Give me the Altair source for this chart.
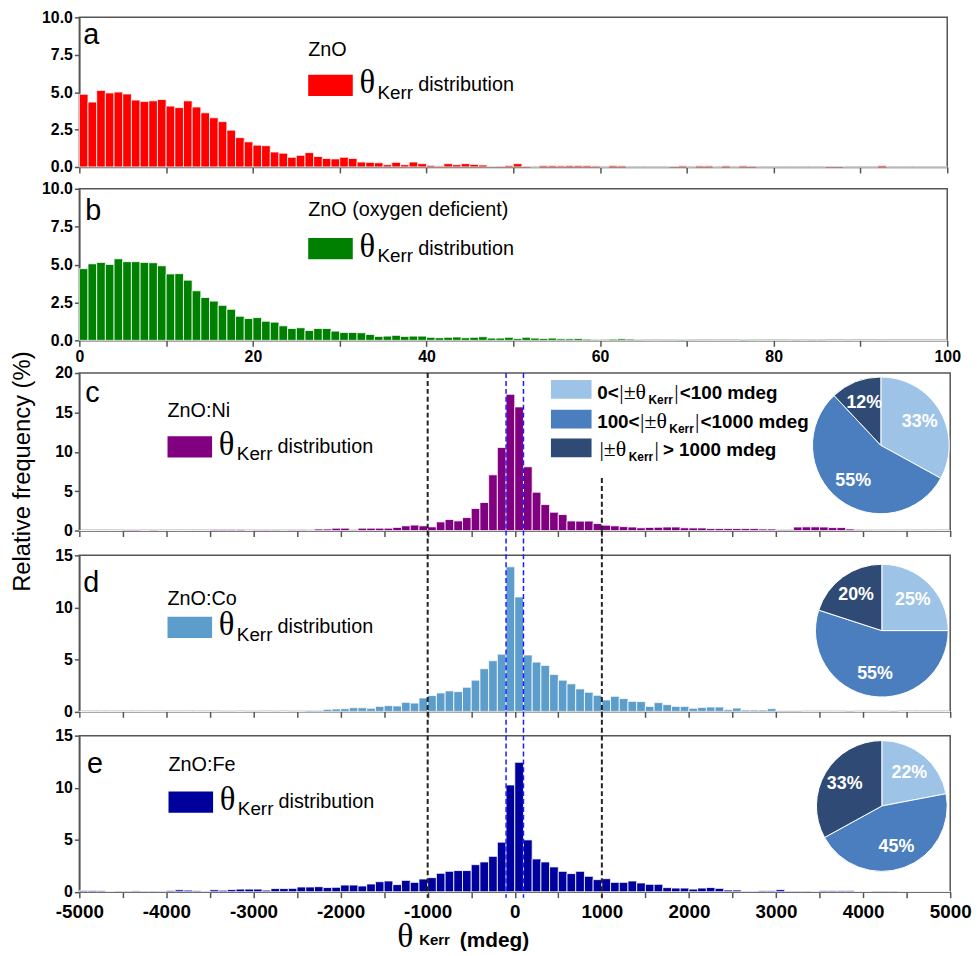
import altair as alt
import pandas as pd

SANS = "Liberation Sans"
SERIF = "Liberation Serif"

# ---------------- data (relative frequency, %) ----------------
# panels a, b: bins of width 1 from 0 to 100
ZNO = [4.86, 4.34, 5.12, 4.95, 5.01, 4.88, 4.47, 4.38, 4.42, 4.51,
       4.07, 3.97, 4.42, 4.01, 3.62, 3.29, 3.03, 2.46, 1.96, 1.68,
       1.46, 1.42, 1.00, 0.92, 0.65, 0.78, 0.96, 0.70, 0.57, 0.54,
       0.65, 0.57, 0.33, 0.31, 0.28, 0.15, 0.31, 0.15, 0.33, 0.22,
       0.11, 0.07, 0.22, 0.15, 0.22, 0.17, 0.13, 0.04, 0.05, 0.10,
       0.22, 0.05, 0.0, 0.10, 0.10, 0.08, 0.10, 0.10, 0.10, 0.07,
       0.0, 0.10, 0.08, 0.0, 0.0, 0.0, 0.0, 0.0, 0.05, 0.08,
       0.0, 0.08, 0.08, 0.0, 0.08, 0.0, 0.08, 0.06, 0.0, 0.0,
       0.0, 0.0, 0.0, 0.0, 0.0, 0.0, 0.05, 0.05, 0.0, 0.0,
       0.0, 0.0, 0.10, 0.0, 0.0, 0.0, 0.0, 0.0, 0.0, 0.0]
ZNO_OD = [4.73, 5.05, 5.14, 5.01, 5.38, 5.19, 5.19, 5.14, 5.12, 4.92,
          4.38, 4.40, 3.97, 3.27, 2.83, 2.59, 2.31, 2.05, 1.59, 1.44,
          1.50, 1.26, 1.20, 0.96, 0.78, 0.83, 0.65, 0.78, 0.78, 0.61,
          0.52, 0.52, 0.50, 0.39, 0.26, 0.28, 0.33, 0.26, 0.28, 0.28,
          0.20, 0.17, 0.20, 0.22, 0.17, 0.20, 0.24, 0.15, 0.15, 0.20,
          0.12, 0.20, 0.15, 0.12, 0.15, 0.10, 0.10, 0.12, 0.08, 0.05,
          0.03, 0.08, 0.10, 0.08, 0.05, 0.03, 0.02, 0.03, 0.03, 0.05,
          0.03, 0.02, 0.02, 0.02, 0.02, 0.02, 0.05, 0.03, 0.02, 0.02,
          0.02, 0.02, 0.04, 0.02, 0.04, 0.03, 0.01, 0.01, 0.02, 0.01,
          0.01, 0.01, 0.02, 0.01, 0.01, 0.01, 0.01, 0.01, 0.01, 0.01]
# panels c, d, e: bins of 100 mdeg from -5000 to 5000
NI = [0.0, 0.0, 0.0, 0.0, 0.02, 0.13, 0.13, 0.02, 0.10, 0.02,
      0.02, 0.0, 0.02, 0.02, 0.02, 0.15, 0.15, 0.15, 0.15, 0.03,
      0.10, 0.10, 0.10, 0.03, 0.10, 0.10, 0.05, 0.20, 0.20, 0.30,
      0.30, 0.10, 0.30, 0.30, 0.30, 0.30, 0.40, 0.60, 0.70, 0.60,
      0.47, 1.10, 1.40, 1.23, 1.65, 2.80, 3.56, 7.08, 10.55, 17.30,
      15.70, 8.10, 4.87, 3.30, 2.33, 2.03, 1.22, 1.20, 1.20, 0.89,
      0.68, 0.60, 0.50, 0.45, 0.35, 0.40, 0.42, 0.45, 0.45, 0.35,
      0.33, 0.33, 0.25, 0.25, 0.25, 0.25, 0.25, 0.25, 0.20, 0.20,
      0.13, 0.13, 0.45, 0.47, 0.47, 0.45, 0.38, 0.38, 0.20, 0.10,
      0.08, 0.05, 0.05, 0.05, 0.03, 0.03, 0.05, 0.03, 0.02, 0.02]
CO = [0.0, 0.0, 0.0, 0.0, 0.0, 0.0, 0.0, 0.0, 0.0, 0.0,
      0.0, 0.0, 0.0, 0.0, 0.0, 0.0, 0.03, 0.03, 0.0, 0.03,
      0.03, 0.0, 0.03, 0.0, 0.03, 0.02, 0.10, 0.10, 0.20, 0.23,
      0.26, 0.35, 0.35, 0.30, 0.48, 0.55, 0.52, 0.87, 0.80, 1.29,
      1.52, 1.77, 1.97, 1.90, 2.32, 3.00, 4.10, 4.87, 5.50, 13.90,
      11.00, 5.42, 4.74, 4.42, 3.55, 3.00, 2.65, 2.16, 1.84, 1.55,
      1.10, 1.45, 1.23, 0.97, 0.94, 0.48, 0.84, 0.65, 0.48, 0.48,
      0.30, 0.38, 0.42, 0.42, 0.16, 0.32, 0.13, 0.13, 0.13, 0.26,
      0.08, 0.08, 0.08, 0.02, 0.02, 0.02, 0.02, 0.02, 0.08, 0.02,
      0.02, 0.02, 0.02, 0.08, 0.0, 0.0, 0.0, 0.0, 0.0, 0.0]
FE = [0.12, 0.12, 0.10, 0.03, 0.06, 0.06, 0.08, 0.06, 0.06, 0.05,
      0.12, 0.18, 0.15, 0.10, 0.05, 0.18, 0.14, 0.20, 0.25, 0.25,
      0.25, 0.15, 0.30, 0.30, 0.32, 0.45, 0.45, 0.48, 0.40, 0.42,
      0.64, 0.64, 0.55, 0.74, 0.96, 1.03, 0.68, 1.09, 0.90, 1.22,
      1.35, 1.77, 1.96, 2.03, 2.03, 2.60, 2.86, 3.40, 4.76, 10.26,
      12.44, 4.98, 3.15, 2.86, 2.38, 1.96, 1.74, 1.96, 1.48, 1.16,
      1.25, 0.90, 0.90, 1.03, 0.84, 0.71, 0.71, 0.39, 0.35, 0.35,
      0.25, 0.35, 0.40, 0.32, 0.16, 0.16, 0.05, 0.05, 0.10, 0.10,
      0.19, 0.06, 0.06, 0.06, 0.03, 0.10, 0.10, 0.10, 0.10, 0.02,
      0.02, 0.06, 0.06, 0.06, 0.02, 0.02, 0.02, 0.02, 0.02, 0.02]

PIE_CATS = ["0-100", "100-1000", ">1000"]
PIE_COLORS = ["#9DC3E6", "#4A7EBF", "#2F4B75"]
PIE_NI = [33, 55, 12]
PIE_CO = [25, 55, 20]
PIE_FE = [22, 45, 33]

TOP_TICKS = list(range(0, 101, 10))
BOT_TICKS = list(range(-5000, 5001, 500))
Y_TOP_TICKS = [0, 2.5, 5, 7.5, 10]
Y_C_TICKS = [0, 5, 10, 15, 20]
Y_DE_TICKS = [0, 5, 10, 15]

W_TOP, W_BOT = 876, 879
HA, HB, HC, HD, HE = 151, 153, 159, 157.5, 157.5


# ---------------- helpers ----------------
def hist_df(values, start, step):
    n = len(values)
    return pd.DataFrame({"x0": [start + step * i for i in range(n)],
                         "x1": [start + step * (i + 1) for i in range(n)],
                         "v": values})


def bar_layer(df, color, xenc, yenc):
    return alt.Chart(df).mark_bar(color=color, stroke="white", strokeWidth=0.8).encode(
        x=xenc, x2="x1:Q", y=yenc, y2=alt.datum(0))


def txt(s, x, y, size, weight="normal", font=SANS, color="black"):
    return alt.Chart(pd.DataFrame({"t": [s]})).mark_text(
        align="left", baseline="alphabetic", font=font, fontSize=size,
        fontWeight=weight, color=color).encode(x=alt.value(x), y=alt.value(y), text="t:N")


def box(x, y, w, h, color):
    return alt.Chart(pd.DataFrame({"k": [0]})).mark_rect(color=color).encode(
        x=alt.value(x), x2=alt.value(x + w), y=alt.value(y), y2=alt.value(y + h))


def vrule(xv, y0, y1, color, width, xenc):
    return alt.Chart(pd.DataFrame({"x0": [xv]})).mark_rule(
        color=color, strokeWidth=width, strokeDash=[5, 3]).encode(
        x=xenc, y=alt.value(y0), y2=alt.value(y1))


def series_key(name, color, left, name_base, top):
    return [
        txt(name, left, name_base, 20),
        box(left, top, 45, 21.5, color),
        txt("\u03b8", left + 51.7, top + 18.7, 33, font=SERIF),
        txt("Kerr", left + 70, top + 24, 19),
        txt("distribution", left + 111, top + 16.7, 20),
    ]


def pie(pcts, cx, cy, r):
    df = pd.DataFrame({"cat": PIE_CATS, "pct": pcts, "ord": [0, 1, 2],
                       "lab": [f"{p}%" for p in pcts]})
    base = alt.Chart(df).encode(theta=alt.Theta("pct:Q", stack=True),
                                order=alt.Order("ord:Q"),
                                x=alt.value(cx), y=alt.value(cy))
    arc = base.mark_arc(radius=r, stroke="white", strokeWidth=1).encode(
        color=alt.Color("cat:N", scale=alt.Scale(domain=PIE_CATS, range=PIE_COLORS), legend=None))
    lab = base.mark_text(radius=r * 0.66, font=SANS, fontWeight="bold", fontSize=18,
                         color="white").encode(text="lab:N")
    return [arc, lab]


def spacer(h):
    return alt.Chart(pd.DataFrame({"k": [0]})).mark_point(opacity=0).encode(
        x=alt.value(0), y=alt.value(0)).properties(
        width=10, height=h, view=alt.ViewBackground(stroke="transparent"))


top_scale = alt.Scale(domain=[0, 100], nice=False, zero=False)
bot_scale = alt.Scale(domain=[-5000, 5000], nice=False, zero=False)

x_a = alt.X("x0:Q", scale=top_scale,
            axis=alt.Axis(values=TOP_TICKS, labels=False, title=None, tickSize=6))
x_b = alt.X("x0:Q", scale=top_scale,
            axis=alt.Axis(values=TOP_TICKS, title=None, tickSize=6, labelFontSize=16,
                          labelPadding=2, labelFlush=False, labelOverlap=False,
                          labelExpr="datum.value % 20 == 0 ? datum.label : ''"))
x_cd = alt.X("x0:Q", scale=bot_scale,
             axis=alt.Axis(values=BOT_TICKS, labels=False, title=None, tickSize=6))
x_e = alt.X("x0:Q", scale=bot_scale,
            axis=alt.Axis(values=BOT_TICKS, title=None, tickSize=6, labelFontSize=19,
                          labelPadding=5, labelFlush=False, labelOverlap=False,
                          labelExpr="datum.value % 1000 == 0 ? '' + datum.value : ''"))

y_top = alt.Y("v:Q", scale=alt.Scale(domain=[0, 10], nice=False),
              axis=alt.Axis(values=Y_TOP_TICKS, format=".1f", title=None))
y_c = alt.Y("v:Q", scale=alt.Scale(domain=[0, 20], nice=False),
            axis=alt.Axis(values=Y_C_TICKS, format="d", title="Relative frequency (%)",
                          titleFontSize=24, titleX=-45, titleY=99, titleAngle=270,
                          titleBaseline="bottom", titleAlign="center"))
y_de = alt.Y("v:Q", scale=alt.Scale(domain=[0, 15], nice=False),
             axis=alt.Axis(values=Y_DE_TICKS, format="d", title=None))

# ---------------- panels ----------------
pa = alt.layer(
    bar_layer(hist_df(ZNO, 0, 1), "#FF0000", x_a, y_top),
    txt("a", 4, 27, 29),
    *series_key("ZnO", "#FF0000", 231, 39, 58),
).properties(width=W_TOP, height=HA)

pb = alt.layer(
    bar_layer(hist_df(ZNO_OD, 0, 1), "#008000", x_b, y_top),
    txt("b", 6, 32, 29),
    *series_key("ZnO (oxygen deficient)", "#008000", 231, 28, 49.7),
).properties(width=W_TOP, height=HB)

BLACK, BLUE = "#222222", "#1A1AFF"

legend_rows = [
    box(476, 7, 41, 19, PIE_COLORS[0]),
    box(476, 37, 41, 19, PIE_COLORS[1]),
    box(476, 66, 41, 19, PIE_COLORS[2]),
    txt("0<", 522.7, 26.3, 19, "bold"),
    txt("|\u00b1\u03b8", 545, 26.3, 22, font=SERIF),
    txt("Kerr", 574.5, 31.3, 12, "bold"),
    txt("|", 600.5, 26.3, 22, font=SERIF),
    txt("<100 mdeg", 606, 26.3, 19, "bold"),
    txt("100<", 522.7, 55.3, 19, "bold"),
    txt("|\u00b1\u03b8", 566, 55.3, 22, font=SERIF),
    txt("Kerr", 595.5, 60.3, 12, "bold"),
    txt("|", 621.5, 55.3, 22, font=SERIF),
    txt("<1000 mdeg", 627, 55.3, 19, "bold"),
    txt("|\u00b1\u03b8", 525, 84, 22, font=SERIF),
    txt("Kerr", 554.5, 89, 12, "bold"),
    txt("|", 580.5, 84, 22, font=SERIF),
    txt("> 1000 mdeg", 589, 84, 19, "bold"),
]

pc = alt.layer(
    bar_layer(hist_df(NI, -5000, 100), "#800080", x_cd, y_c),
    vrule(-1000, 0, HC, BLACK, 2, x_cd),
    vrule(1000, 106, HC, BLACK, 2, x_cd),
    vrule(-100, 0, HC, BLUE, 1.5, x_cd),
    vrule(100, 0, HC, BLUE, 1.5, x_cd),
    txt("c", 6, 29, 29),
    *series_key("ZnO:Ni", "#800080", 89, 44.7, 63.7),
    *legend_rows,
    *pie(PIE_NI, 809, 73, 69),
).properties(width=W_BOT, height=HC)

pd_ = alt.layer(
    bar_layer(hist_df(CO, -5000, 100), "#5C9DCB", x_cd, y_de),
    vrule(-1000, -25, HD, BLACK, 2, x_cd),
    vrule(1000, -25, HD, BLACK, 2, x_cd),
    vrule(-100, -25, HD, BLUE, 1.5, x_cd),
    vrule(100, -25, HD, BLUE, 1.5, x_cd),
    txt("d", 4, 37, 29),
    *series_key("ZnO:Co", "#5C9DCB", 89, 50, 62),
    *pie(PIE_CO, 810, 76, 67),
).properties(width=W_BOT, height=HD)

pe = alt.layer(
    bar_layer(hist_df(FE, -5000, 100), "#00009C", x_e, y_de),
    vrule(-1000, -24, HE + 6, BLACK, 2, x_e),
    vrule(1000, -24, HE + 6, BLACK, 2, x_e),
    vrule(-100, -24, HE + 6, BLUE, 1.5, x_e),
    vrule(100, -24, HE + 6, BLUE, 1.5, x_e),
    txt("e", 7.7, 37.7, 29),
    *series_key("ZnO:Fe", "#00009C", 90, 35.3, 56.3),
    *pie(PIE_FE, 810, 71, 66),
    txt("\u03b8", 321, HE + 56, 34, font=SERIF),
    txt("Kerr", 343, HE + 54, 15, "bold"),
    txt("(mdeg)", 384, HE + 56, 21, "bold"),
).properties(width=W_BOT, height=HE)

chart = alt.vconcat(
    pa, spacer(21.5), pb, spacer(33), pc, spacer(24.5), pd_, spacer(24), pe,
    spacing=0, bounds="flush",
).properties(
    padding={"left": 2, "top": -4, "right": 0, "bottom": 0}
).configure_axis(
    labelFont=SANS, labelFontWeight="bold", labelColor="black", labelFontSize=16,
    domainColor="#555555", domainWidth=1.5, tickColor="#555555", tickWidth=1.5,
    tickSize=5, labelPadding=2, grid=False, titleFont=SANS, titleFontWeight="normal",
    titleColor="black",
).configure_view(stroke="#555555", strokeWidth=1.5)

chart.save("out.html", embed_options={"renderer": "svg", "actions": False})
